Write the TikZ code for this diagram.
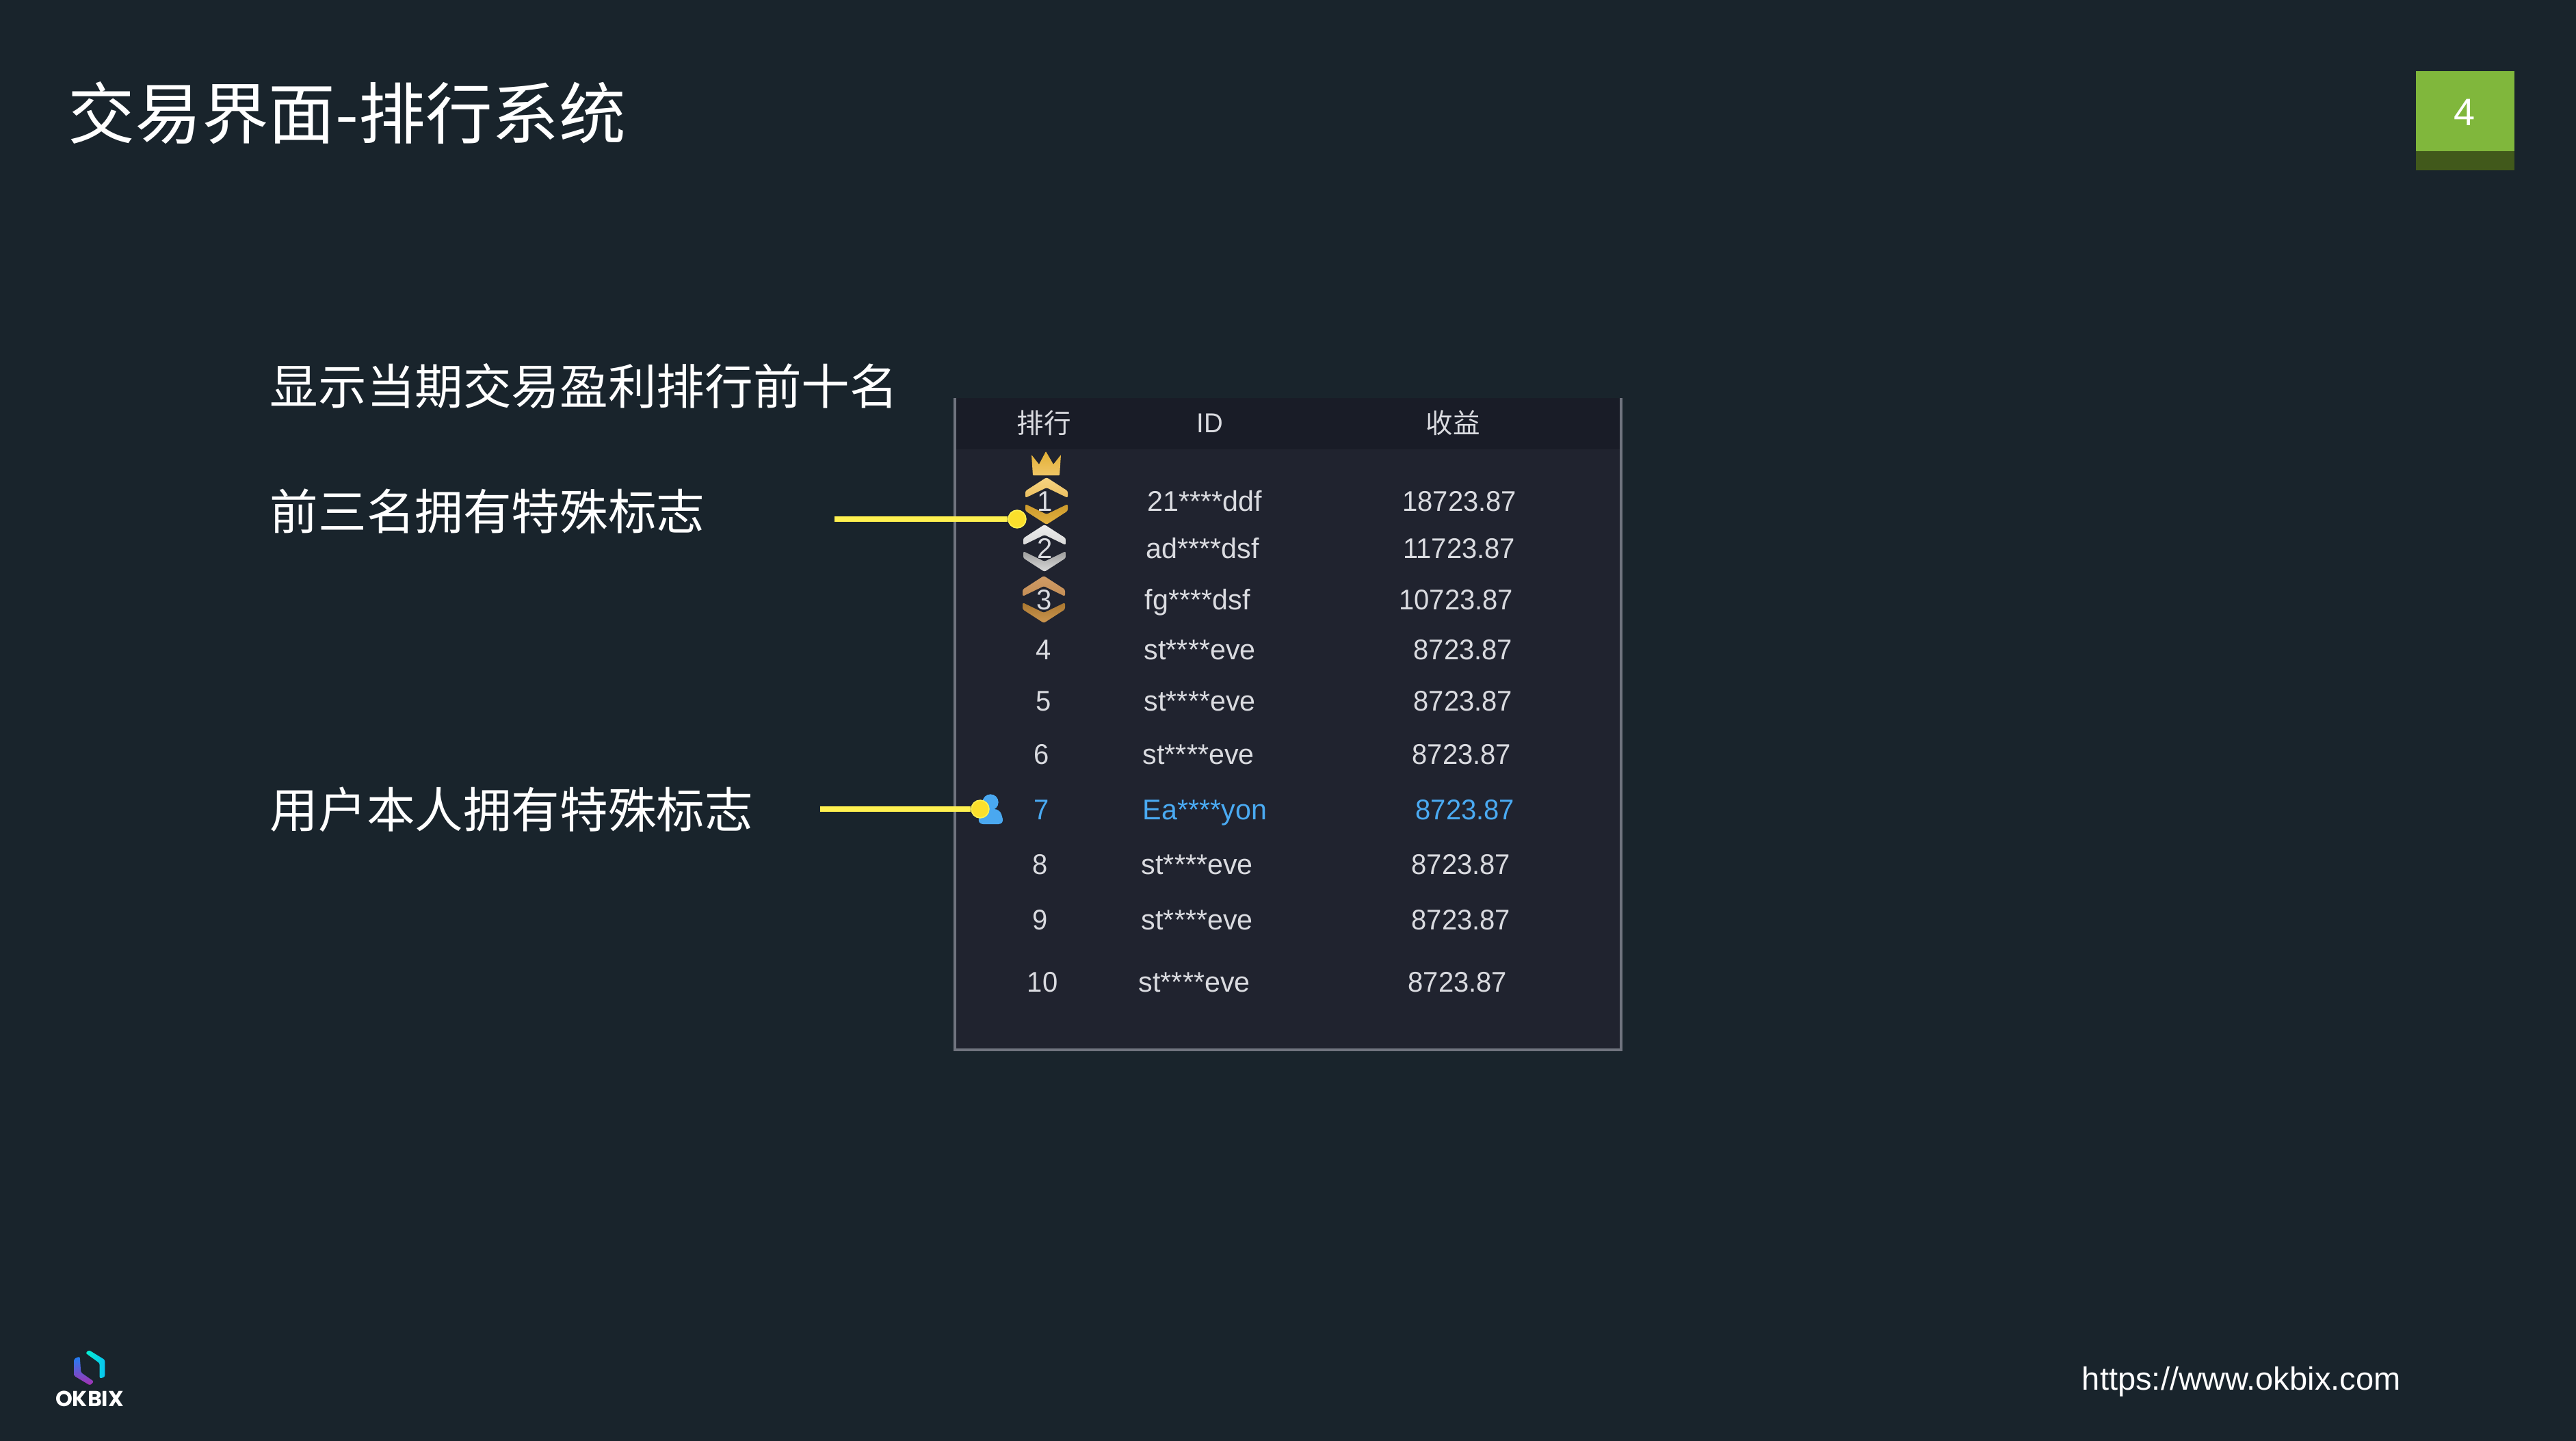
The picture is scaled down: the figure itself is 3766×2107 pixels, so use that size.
\documentclass[tikz,border=0pt]{standalone}
\usepackage{fontspec}
\setmainfont{Liberation Sans}
\newfontfamily\cjk{Noto Sans CJK SC}
\newfontfamily\rowfont[FakeStretch=0.96]{Liberation Sans}
\newfontfamily\idfont[FakeStretch=0.99]{Liberation Sans}
\newfontfamily\logofont{Poppins}
\usetikzlibrary{calc}
\definecolor{bgc}{HTML}{19242C}
\definecolor{headc}{HTML}{191C27}
\definecolor{bodyc}{HTML}{20232F}
\definecolor{edgec}{HTML}{70747F}
\definecolor{rowc}{HTML}{DADBE0}
\definecolor{bluec}{HTML}{4AAAF2}
\definecolor{iconc}{HTML}{4AA8F0}
\definecolor{linec}{HTML}{FFF150}
\definecolor{dotc}{HTML}{FBDF2C}
\definecolor{crowna}{HTML}{E3B035}
\definecolor{crownb}{HTML}{EFC565}
\definecolor{logoa}{HTML}{1E7FF5}
\definecolor{logob}{HTML}{A82FB0}
\definecolor{logoc}{HTML}{05F0D0}
\definecolor{logod}{HTML}{08C4F0}
\newcommand{\fsz}[1]{\fontsize{#1pt}{#1pt}\selectfont}
\newcommand{\chevup}[5]{% cx, apex y, sign, top colour, bottom colour
  \path[top color=#4,bottom color=#5,rounded corners=.6pt]
   (#1,#2) -- ++(31,#3*20) -- ++(0,#3*10) -- (#1,#2+#3*15) -- (#1-31,#2+#3*30) -- ++(0,-#3*10) -- cycle;}
\tikzset{
  titletext/.style={anchor=west,inner sep=0pt,text=white,font=\cjk\fsz{23.45}},
  sidetext/.style={anchor=west,inner sep=0pt,text=white,font=\cjk\fsz{16.95}},
  headtext/.style={anchor=center,inner sep=0pt,text=rowc,font=\cjk\fsz{9.5}},
  rowrank/.style={anchor=center,inner sep=0pt,text=rowc,text height=7.2pt,text depth=0pt,font=\rowfont\fsz{10}},
  rowid/.style={anchor=west,inner sep=0pt,text=rowc,text height=7.2pt,text depth=0pt,font=\idfont\fsz{10}},
  rowval/.style={anchor=east,inner sep=0pt,text=rowc,text height=7.2pt,text depth=0pt,font=\rowfont\fsz{10}},
  mine/.style={text=bluec},
  leader/.style={draw=linec,line width=1.9pt},
  leaderdot/.style={circle,minimum size=6.2pt,inner sep=0pt,fill=dotc,draw=linec,line width=.4pt},
}
\begin{document}
\begin{tikzpicture}[x=.24pt,y=-.24pt]
\fill[bgc] (0,0) rectangle (3766,2107);
\useasboundingbox (0,0) rectangle (3766,2107);
% title and side texts
\node[titletext] (title) at (99,165) {交易界面-排行系统};
\node[sidetext] (s1) at (394,565) {显示当期交易盈利排行前十名};
\node[sidetext] (s2) at (394,748) {前三名拥有特殊标志};
\node[sidetext] (s3) at (394,1184) {用户本人拥有特殊标志};
% page badge
\fill[fill={rgb,255:red,128;green,183;blue,60}] (3532,104) rectangle (3676,221);
\fill[fill={rgb,255:red,65;green,89;blue,27}] (3532,221) rectangle (3676,249);
\node[inner sep=0pt,text=white,font=\fsz{13.4}] (badge) at (3603,164) {4};
% table
\fill[bodyc] (1396,582) rectangle (2370,1535);
\fill[headc] (1396,582) rectangle (2370,657);
\draw[edgec,line width=.9pt] (1396,582) -- (1396,1535) -- (2370,1535) -- (2370,582);
\node[headtext] (h1) at (1526,618) {排行};
\node[headtext,font=\rowfont\fsz{9.6}] (h2) at (1769,619) {ID};
\node[headtext] (h3) at (2124,618) {收益};
% crown
\path[top color=crowna,bottom color=crownb,rounded corners=.2pt]
  (1508,665) -- (1519,679) -- (1529,660) -- (1540,679) -- (1551,665) -- (1549,695) -- (1510,695) -- cycle;
% chevrons
\definecolor{ga}{HTML}{F6D382}\definecolor{gb}{HTML}{ECC060}\definecolor{gc}{HTML}{E3B23F}\definecolor{gd}{HTML}{CC992C}
\definecolor{sa}{HTML}{EEEEEE}\definecolor{sb}{HTML}{D8D8D8}\definecolor{sc}{HTML}{DADADA}\definecolor{sd}{HTML}{9C9C9C}
\definecolor{ba}{HTML}{D09C66}\definecolor{bb}{HTML}{C48E56}\definecolor{bc}{HTML}{CC9650}\definecolor{bd}{HTML}{A97730}
\chevup{1530}{698}{1}{ga}{gb}
\chevup{1530}{767}{-1}{gd}{gc}
\chevup{1527}{767}{1}{sa}{sb}
\chevup{1527}{836}{-1}{sd}{sc}
\chevup{1526}{842}{1}{ba}{bb}
\chevup{1526}{911}{-1}{bd}{bc}
% rows
\node[rowrank] (r1) at (1528,732) {1};
\node[rowid] (i1) at (1677,732) {21****ddf};
\node[rowval] (v1) at (2218,732) {18723.87};
\node[rowrank] (r2) at (1528,801) {2};
\node[rowid] (i2) at (1675,801) {ad****dsf};
\node[rowval] (v2) at (2216,801) {11723.87};
\node[rowrank] (r3) at (1527,876) {3};
\node[rowid] (i3) at (1673,876) {fg****dsf};
\node[rowval] (v3) at (2213,876) {10723.87};
\node[rowrank] (r4) at (1526,949) {4};
\node[rowid] (i4) at (1672,949) {st****eve};
\node[rowval] (v4) at (2212,949) {8723.87};
\node[rowrank] (r5) at (1526,1024) {5};
\node[rowid] (i5) at (1672,1024) {st****eve};
\node[rowval] (v5) at (2212,1024) {8723.87};
\node[rowrank] (r6) at (1523,1102) {6};
\node[rowid] (i6) at (1670,1102) {st****eve};
\node[rowval] (v6) at (2210,1102) {8723.87};
\node[rowrank,mine] (r7) at (1523,1183) {7};
\node[rowid,mine] (i7) at (1670,1183) {Ea****yon};
\node[rowval,mine] (v7) at (2215,1183) {8723.87};
\node[rowrank] (r8) at (1521,1263) {8};
\node[rowid] (i8) at (1668,1263) {st****eve};
\node[rowval] (v8) at (2209,1263) {8723.87};
\node[rowrank] (r9) at (1521,1344) {9};
\node[rowid] (i9) at (1668,1344) {st****eve};
\node[rowval] (v9) at (2209,1344) {8723.87};
\node[rowrank] (r10) at (1524,1435) {10};
\node[rowid] (i10) at (1664,1435) {st****eve};
\node[rowval] (v10) at (2204,1435) {8723.87};
% user icon
\fill[iconc] (1448,1173) circle[radius=2.8pt];
\fill[iconc,rounded corners=2pt] (1429,1205) -- (1434,1183) -- (1462,1183) -- (1468,1205) -- cycle;
% leaders
\coordinate (l1) at (1220,759);
\coordinate (l2) at (1199,1183);
\node[leaderdot] (d1) at (1487,759) {};
\node[leaderdot] (d2) at (1433,1183) {};
\draw[leader] (l1) -- (d1);
\draw[leader] (l2) -- (d2);
% footer
\node[anchor=west,inner sep=0pt,text=white,font=\fsz{11.3}] (url) at (3043,2020) {https://www.okbix.com};
% logo
\path[top color=logoa,bottom color=logob,rounded corners=.6pt]
  (108.3,1986.7) -- (116.7,1983.3) -- (118.3,2006.7) -- (137.3,2020) -- (131.7,2025.7) -- (108.3,2011.7) -- cycle;
\path[left color=logoc,right color=logod,rounded corners=.6pt]
  (125,1978.3) -- (130,1974) -- (153.3,1988.3) -- (153.3,2013.3) -- (145.7,2015.7) -- (145.7,1993.3) -- cycle;
\node[inner sep=0pt,text=white,font=\logofont\bfseries\fsz{7.6}] (logo) at (131,2045) {OKBIX};
\end{tikzpicture}
\end{document}
